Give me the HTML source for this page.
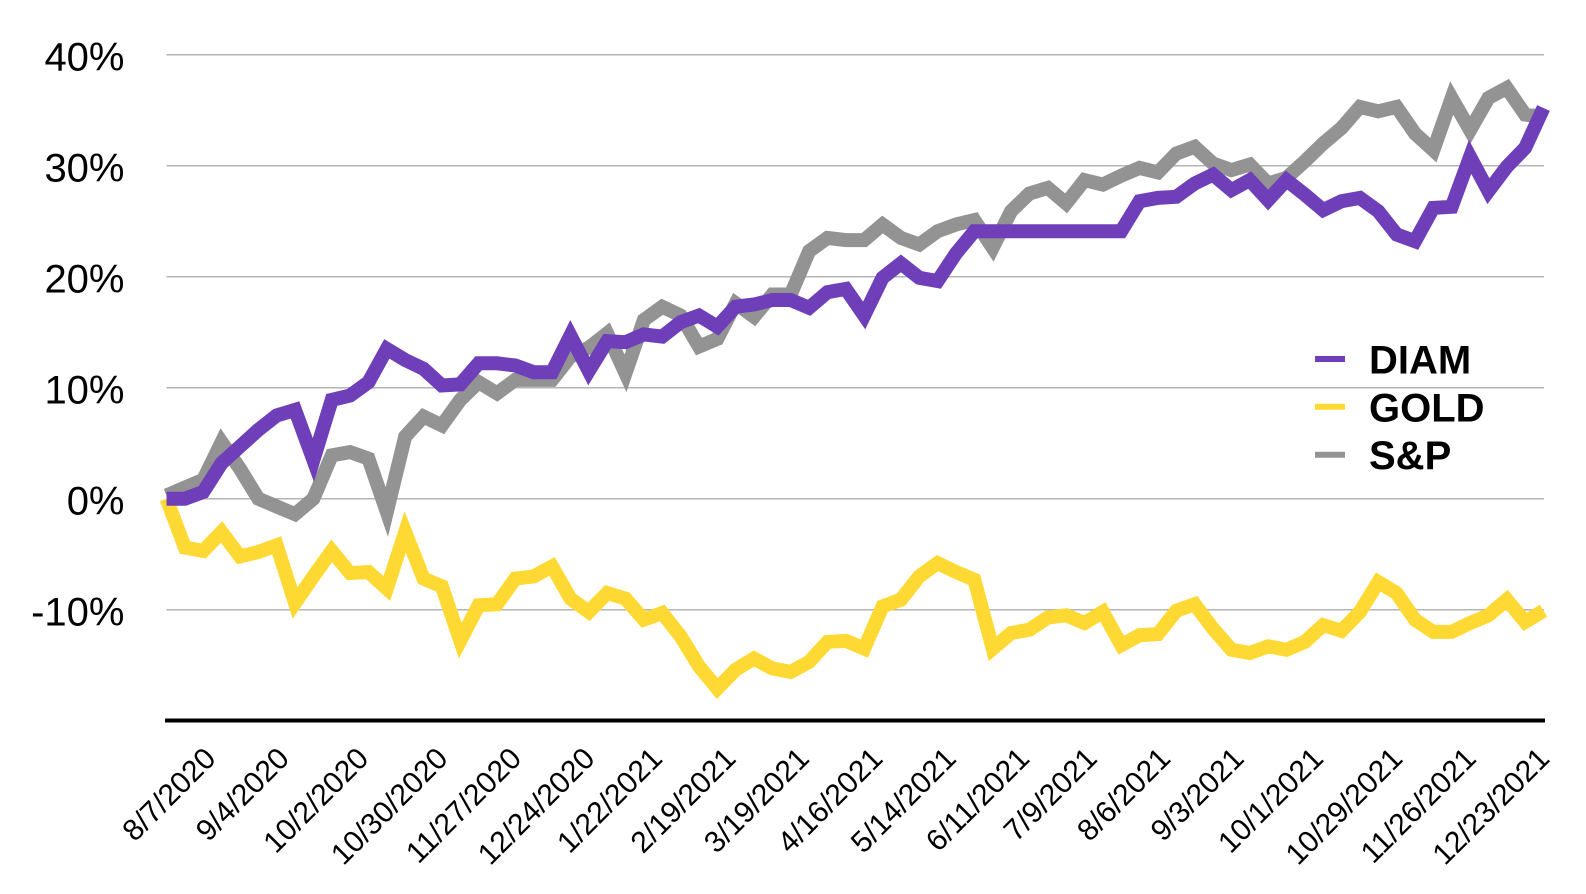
<!DOCTYPE html>
<html>
<head>
<meta charset="utf-8">
<style>
  html, body { margin: 0; padding: 0; background: #ffffff; }
  svg { display: block; }
  text { font-family: "Liberation Sans", Arial, Helvetica, sans-serif; fill: #000; }
</style>
</head>
<body>
<svg width="1586" height="894" viewBox="0 0 1586 894" xmlns="http://www.w3.org/2000/svg">
  <rect x="0" y="0" width="1586" height="894" fill="#ffffff"/>

  <!-- gridlines -->
  <g stroke="#b5b5b5" stroke-width="1.5">
    <line x1="166.5" y1="54.7" x2="1544" y2="54.7"/>
    <line x1="166.5" y1="165.7" x2="1544" y2="165.7"/>
    <line x1="166.5" y1="276.7" x2="1544" y2="276.7"/>
    <line x1="166.5" y1="387.7" x2="1544" y2="387.7"/>
    <line x1="166.5" y1="498.7" x2="1544" y2="498.7"/>
    <line x1="166.5" y1="609.7" x2="1544" y2="609.7"/>
  </g>

  <!-- y labels -->
  <g font-size="40" text-anchor="end">
    <text x="124.5" y="70.7">40%</text>
    <text x="124.5" y="181.7">30%</text>
    <text x="124.5" y="292.7">20%</text>
    <text x="124.5" y="403.7">10%</text>
    <text x="124.5" y="514.5">0%</text>
    <text x="124.5" y="625.5">-10%</text>
  </g>

  <!-- series -->
  <g fill="none" stroke-width="14" stroke-linejoin="miter" stroke-miterlimit="6" stroke-linecap="butt">
    <polyline stroke="#939393" points="166.5,495.4 184.86,487.6 203.22,479.8 221.58,442.1 239.94,468.7 258.3,498.7 276.66,506.5 295.02,514.2 313.38,498.7 331.74,455.4 350.1,452.1 368.46,458.7 386.82,512 405.18,436.5 423.54,416.6 441.9,425.4 460.26,399.9 478.62,382.2 496.98,393.3 515.34,379.9 533.7,379.9 552.06,379.9 570.42,356.6 588.78,347.7 607.14,333.3 625.5,373.3 643.86,320 662.22,306.7 680.58,315.5 698.94,346.6 717.3,338.9 735.66,303.3 754.02,316.7 772.38,294.5 790.74,294.5 809.1,251.2 827.46,237.9 845.82,240.1 864.18,240.1 882.54,224.5 900.9,237.9 919.26,244.5 937.62,231.2 955.98,224.5 974.34,220.1 992.7,247.8 1011.06,211.2 1029.42,193.5 1047.78,187.9 1066.14,203.4 1084.5,180.1 1102.86,184.6 1121.22,175.7 1139.58,167.9 1157.94,172.4 1176.3,153.5 1194.66,146.8 1213.02,163.5 1231.38,170.1 1249.74,164.6 1268.1,183.5 1286.46,177.9 1304.82,161.3 1323.18,143.5 1341.54,128 1359.9,106.9 1378.26,111.3 1396.62,106.9 1414.98,133.5 1433.34,150.2 1451.7,98 1470.06,130.2 1488.42,98 1506.78,88 1525.14,114.6 1543.5,116.9"/>
    <polyline stroke="#ffd933" points="166.5,498.7 184.86,547.5 203.22,550.9 221.58,532 239.94,556.4 258.3,552 276.66,545.3 295.02,603 313.38,576.4 331.74,550.9 350.1,573.1 368.46,572 386.82,588.6 405.18,532 423.54,578.6 441.9,586.4 460.26,640.8 478.62,605.3 496.98,604.2 515.34,578.6 533.7,576.4 552.06,566.4 570.42,598.6 588.78,611.9 607.14,593.1 625.5,598.6 643.86,619.7 662.22,613 680.58,636.3 698.94,666.3 717.3,688.5 735.66,669.6 754.02,658.5 772.38,668.5 790.74,671.9 809.1,661.9 827.46,641.9 845.82,640.8 864.18,648.6 882.54,606.4 900.9,599.7 919.26,576.4 937.62,563.1 955.98,572 974.34,579.7 992.7,648.6 1011.06,633 1029.42,629.7 1047.78,617.5 1066.14,615.3 1084.5,623 1102.86,611.9 1121.22,645.2 1139.58,635.2 1157.94,634.1 1176.3,610.8 1194.66,604.2 1213.02,628.6 1231.38,649.7 1249.74,653 1268.1,646.3 1286.46,649.7 1304.82,641.9 1323.18,625.2 1341.54,630.8 1359.9,611.9 1378.26,582 1396.62,593.1 1414.98,619.7 1433.34,631.9 1451.7,631.9 1470.06,623 1488.42,615.3 1506.78,599.7 1525.14,621.9 1543.5,610.8"/>
    <polyline stroke="#6f3fb9" points="166.5,498.7 184.86,498.7 203.22,492 221.58,463.2 239.94,446.5 258.3,429.9 276.66,415.5 295.02,409.9 313.38,460 331.74,399.9 350.1,395.5 368.46,382.2 386.82,348.9 405.18,360 423.54,368.8 441.9,385.5 460.26,384.4 478.62,363.3 496.98,363.3 515.34,365.5 533.7,372.2 552.06,372.2 570.42,335.5 588.78,371.1 607.14,341.1 625.5,342.2 643.86,334.4 662.22,336.6 680.58,322.2 698.94,315.5 717.3,326.7 735.66,306.7 754.02,304.5 772.38,300 790.74,300 809.1,307.8 827.46,292.2 845.82,288.9 864.18,315.5 882.54,277.8 900.9,263.4 919.26,277.8 937.62,281.1 955.98,253.4 974.34,231.2 1121.22,231.2 1139.58,201.2 1157.94,197.9 1176.3,196.8 1194.66,183.5 1213.02,174.6 1231.38,190.1 1249.74,180.1 1268.1,200.1 1286.46,180.1 1304.82,194.6 1323.18,210.1 1341.54,201.2 1359.9,197.9 1378.26,211.2 1396.62,234.5 1414.98,241.2 1433.34,207.9 1451.7,206.8 1470.06,156.8 1488.42,191.2 1506.78,166.8 1525.14,147.9 1543.5,108"/>
  </g>

  <!-- x axis -->
  <line x1="165" y1="720.5" x2="1545" y2="720.5" stroke="#000" stroke-width="4"/>

  <!-- x labels -->
  <g font-size="30" text-anchor="end">
    <text x="217.4" y="760.2" transform="rotate(-45 217.4 760.2)">8/7/2020</text>
    <text x="290.8" y="760.2" transform="rotate(-45 290.8 760.2)">9/4/2020</text>
    <text x="370.2" y="760.2" transform="rotate(-45 370.2 760.2)">10/2/2020</text>
    <text x="449.5" y="760.2" transform="rotate(-45 449.5 760.2)">10/30/2020</text>
    <text x="523.0" y="760.2" transform="rotate(-45 523.0 760.2)">11/27/2020</text>
    <text x="596.4" y="760.2" transform="rotate(-45 596.4 760.2)">12/24/2020</text>
    <text x="663.9" y="760.2" transform="rotate(-45 663.9 760.2)">1/22/2021</text>
    <text x="737.4" y="760.2" transform="rotate(-45 737.4 760.2)">2/19/2021</text>
    <text x="810.8" y="760.2" transform="rotate(-45 810.8 760.2)">3/19/2021</text>
    <text x="884.3" y="760.2" transform="rotate(-45 884.3 760.2)">4/16/2021</text>
    <text x="957.7" y="760.2" transform="rotate(-45 957.7 760.2)">5/14/2021</text>
    <text x="1031.1" y="760.2" transform="rotate(-45 1031.1 760.2)">6/11/2021</text>
    <text x="1098.7" y="760.2" transform="rotate(-45 1098.7 760.2)">7/9/2021</text>
    <text x="1172.1" y="760.2" transform="rotate(-45 1172.1 760.2)">8/6/2021</text>
    <text x="1245.6" y="760.2" transform="rotate(-45 1245.6 760.2)">9/3/2021</text>
    <text x="1324.9" y="760.2" transform="rotate(-45 1324.9 760.2)">10/1/2021</text>
    <text x="1404.2" y="760.2" transform="rotate(-45 1404.2 760.2)">10/29/2021</text>
    <text x="1477.7" y="760.2" transform="rotate(-45 1477.7 760.2)">11/26/2021</text>
    <text x="1551.1" y="760.2" transform="rotate(-45 1551.1 760.2)">12/23/2021</text>
  </g>

  <!-- legend -->
  <g stroke-width="6">
    <line x1="1315" y1="359" x2="1345" y2="359" stroke="#6f3fb9"/>
    <line x1="1315" y1="406.7" x2="1345" y2="406.7" stroke="#ffd933"/>
    <line x1="1315" y1="454.7" x2="1345" y2="454.7" stroke="#939393"/>
  </g>
  <g font-size="40" font-weight="bold">
    <text x="1369" y="373.3">DIAM</text>
    <text x="1369" y="421.3">GOLD</text>
    <text x="1369" y="468.8">S&amp;P</text>
  </g>
</svg>
</body>
</html>
